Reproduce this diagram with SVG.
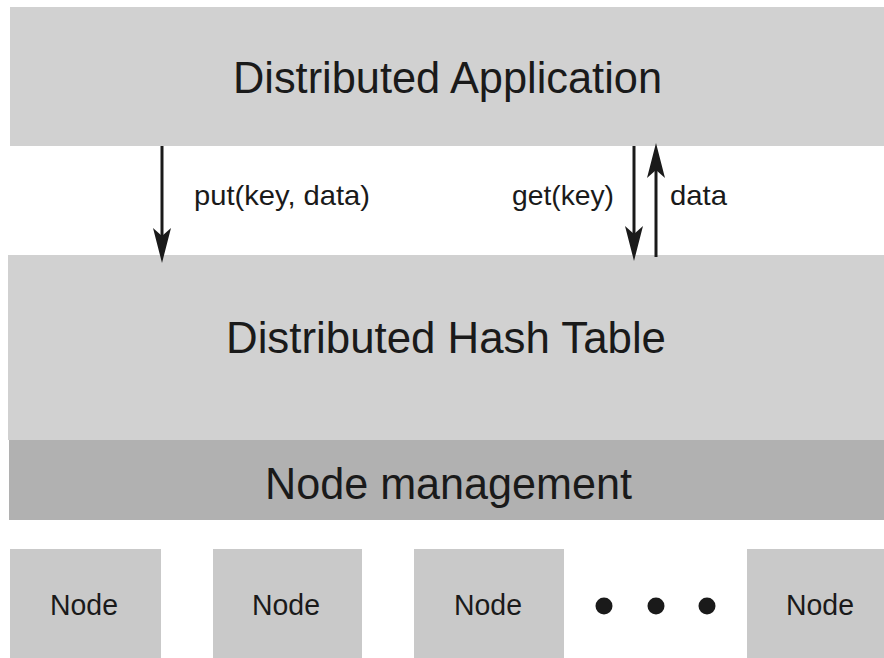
<svg xmlns="http://www.w3.org/2000/svg" width="884" height="658" viewBox="0 0 884 658">
<defs>
<style>
.band{fill:#d1d1d1}
.nm{fill:#b1b1b1}
.node{fill:#c9c9c9}
.big{font-family:"Liberation Sans",Arial,sans-serif;font-size:45px;fill:#1a1a1a}
.lbl{font-family:"Liberation Sans",Arial,sans-serif;font-size:28px;fill:#1a1a1a}
.nd{font-family:"Liberation Sans",Arial,sans-serif;font-size:29px;fill:#1a1a1a}
.shaft{stroke:#1a1a1a;stroke-width:3;fill:none}
.head{fill:#1a1a1a}
</style>
</defs>
<rect width="884" height="658" fill="#ffffff"/>
<g id="app">
<rect class="band" x="10" y="7" width="874" height="139"/>
<text class="big" x="233" y="93" textLength="429" lengthAdjust="spacingAndGlyphs">Distributed Application</text>
</g>
<g id="dht">
<rect class="band" x="8" y="255" width="876" height="185"/>
<text class="big" x="226" y="353" textLength="440" lengthAdjust="spacingAndGlyphs">Distributed Hash Table</text>
</g>
<g id="nodemgmt">
<rect class="nm" x="9" y="440" width="875" height="80"/>
<text class="big" x="265" y="499" textLength="367" lengthAdjust="spacingAndGlyphs">Node management</text>
</g>
<g id="node1">
<rect class="node" x="10" y="549" width="151" height="109"/>
<text class="nd" x="50" y="615" textLength="68" lengthAdjust="spacingAndGlyphs">Node</text>
</g>
<g id="node2">
<rect class="node" x="213" y="549" width="149" height="109"/>
<text class="nd" x="252" y="615" textLength="68" lengthAdjust="spacingAndGlyphs">Node</text>
</g>
<g id="node3">
<rect class="node" x="414" y="549" width="150" height="109"/>
<text class="nd" x="454" y="615" textLength="68" lengthAdjust="spacingAndGlyphs">Node</text>
</g>
<g id="dots">
<circle class="head" cx="604" cy="606" r="8.5"/>
<circle class="head" cx="656" cy="606" r="8.5"/>
<circle class="head" cx="707" cy="606" r="8.5"/>
</g>
<g id="node4">
<rect class="node" x="747" y="549" width="137" height="109"/>
<text class="nd" x="786" y="615" textLength="68" lengthAdjust="spacingAndGlyphs">Node</text>
</g>
<g id="connectors">
<line class="shaft" x1="162" y1="146" x2="162" y2="240"/>
<path class="head" d="M162,263 L153,228 L162,236 L171,228 Z"/>
<line class="shaft" x1="634" y1="146" x2="634" y2="240"/>
<path class="head" d="M634,261 L625,226 L634,234 L643,226 Z"/>
<line class="shaft" x1="656" y1="257" x2="656" y2="165"/>
<path class="head" d="M656,143 L647,178 L656,170 L665,178 Z"/>
<text class="lbl" x="194" y="205" textLength="176" lengthAdjust="spacingAndGlyphs">put(key, data)</text>
<text class="lbl" x="512" y="205" textLength="102" lengthAdjust="spacingAndGlyphs">get(key)</text>
<text class="lbl" x="670" y="205" textLength="57" lengthAdjust="spacingAndGlyphs">data</text>
</g>
</svg>
